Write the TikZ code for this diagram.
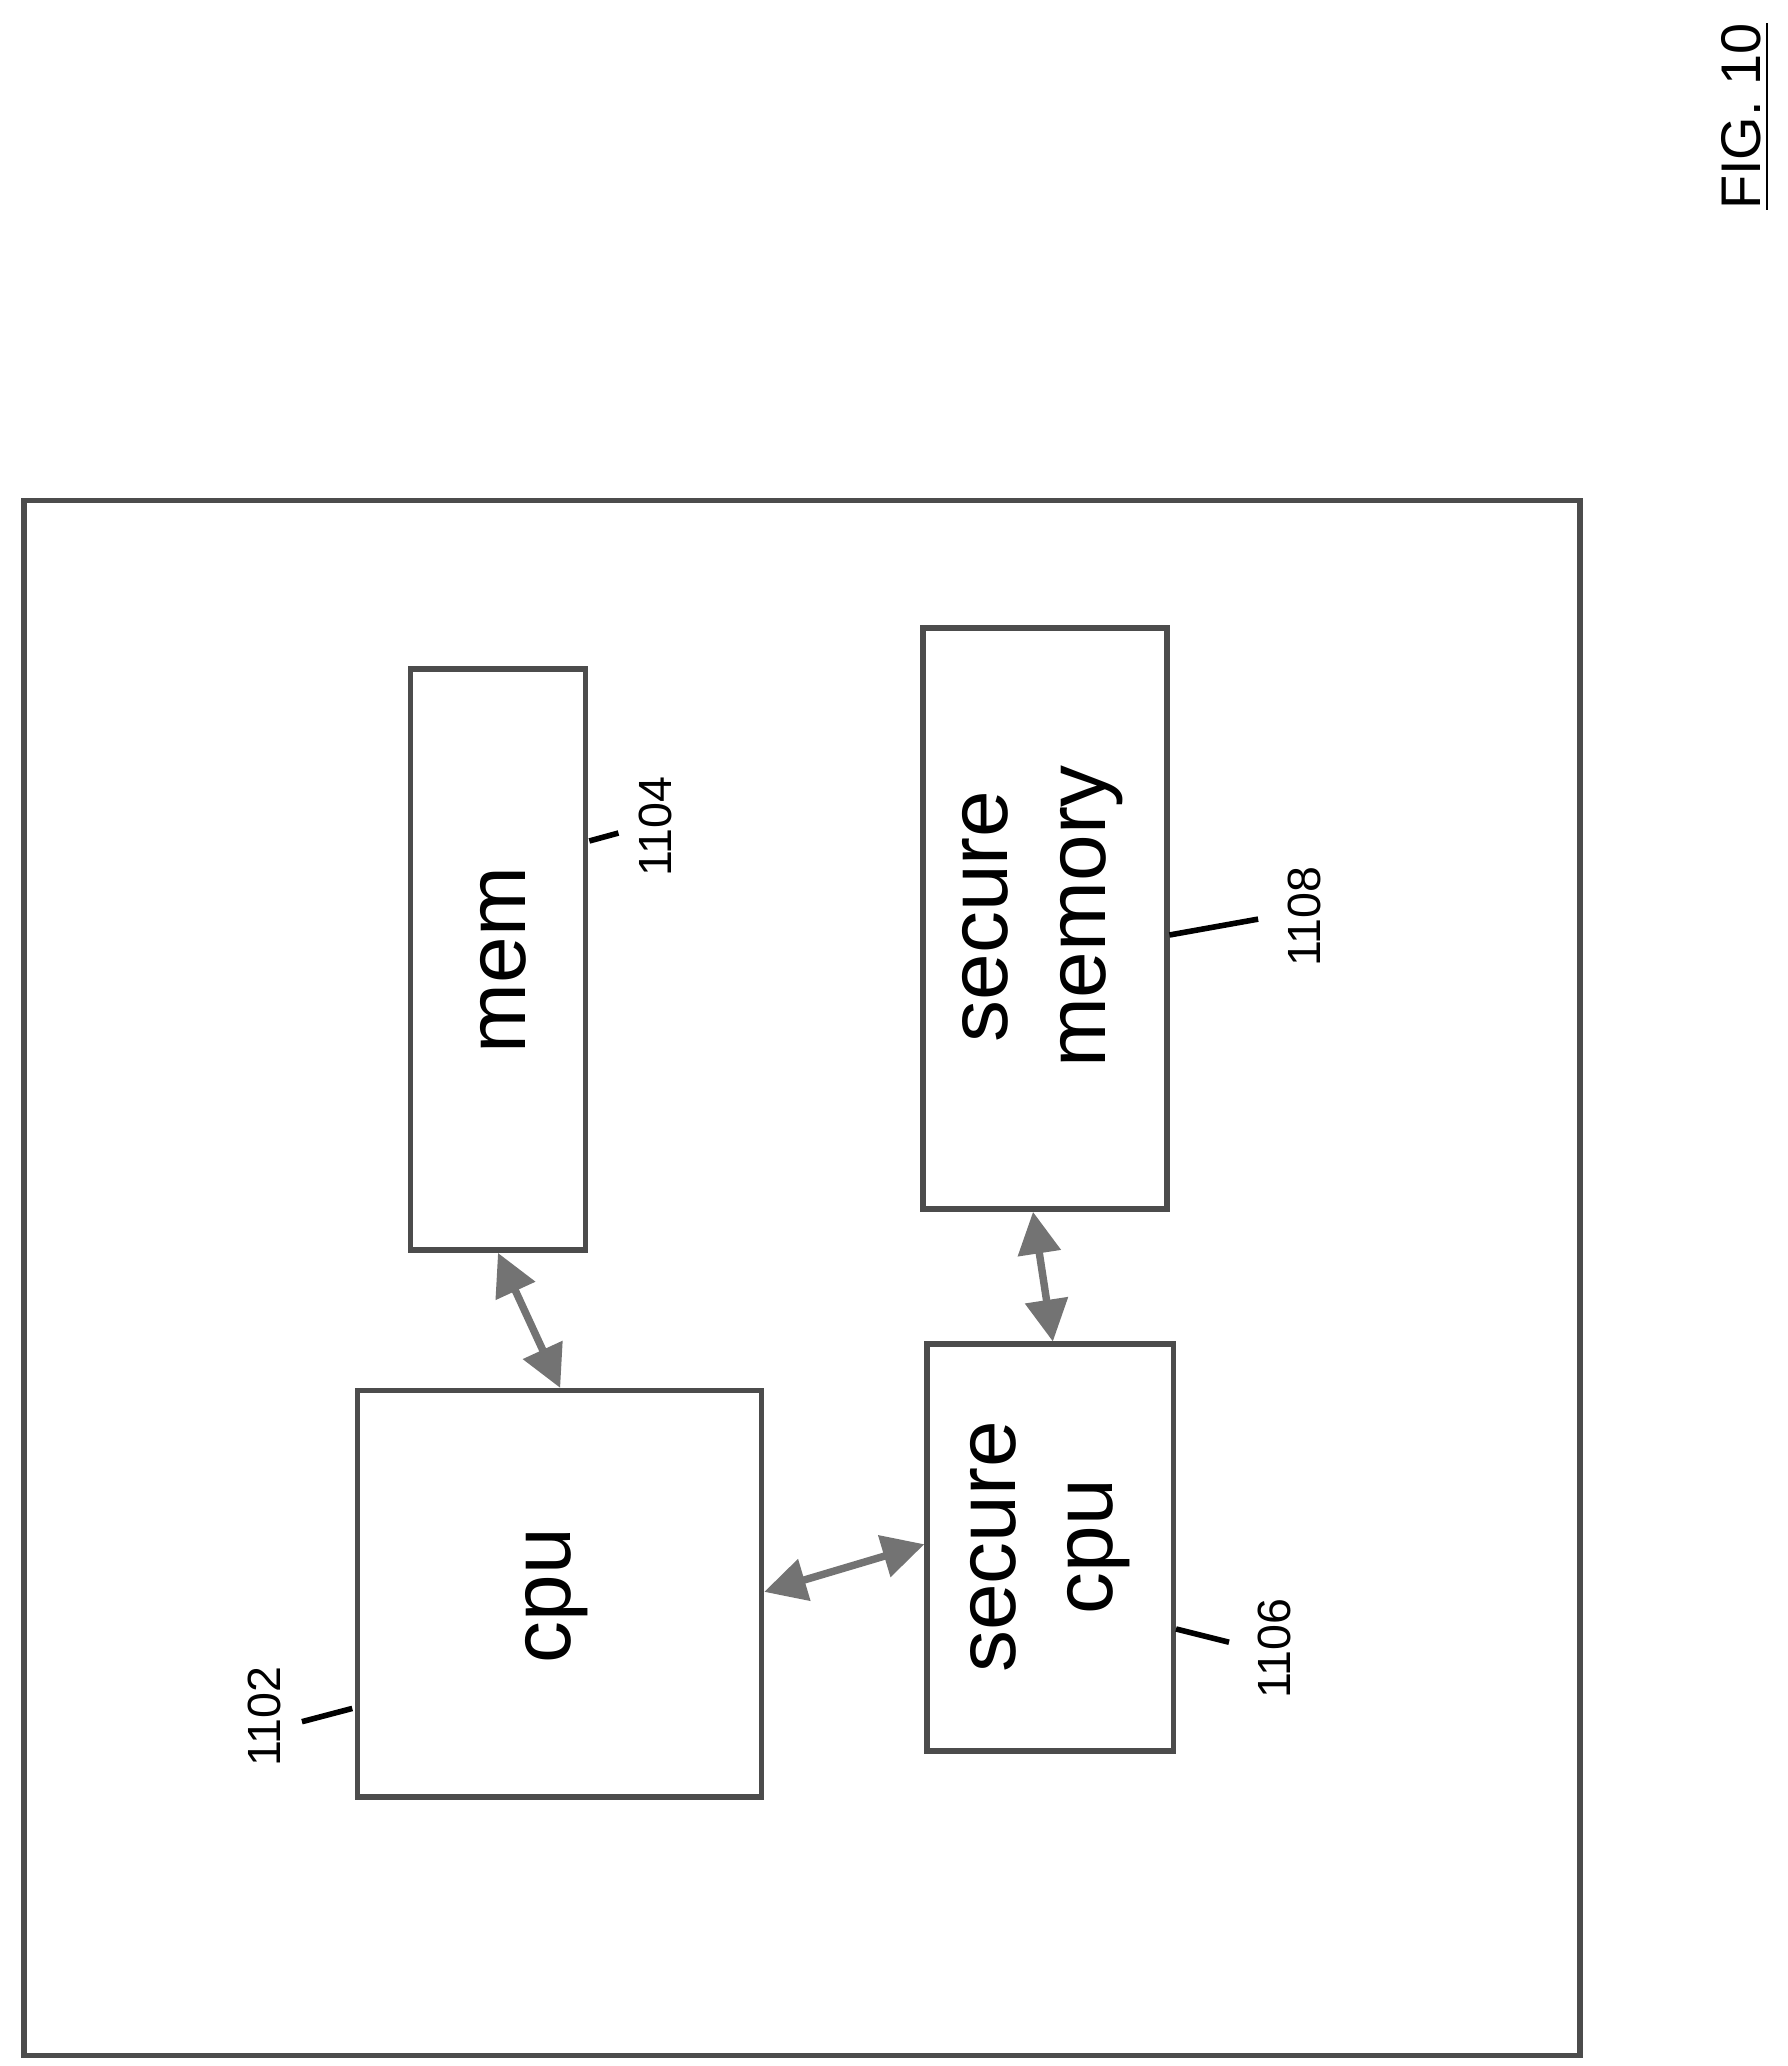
\documentclass[tikz,border=0pt]{standalone}
\usepackage{fontspec}
\setmainfont{Liberation Sans}
\usetikzlibrary{arrows.meta}

\tikzset{
  blk/.style={draw=black!70,line width=1.2pt},
  big/.style={rotate=90,align=center,font=\fontsize{18}{21}\selectfont},
  num/.style={rotate=90,font=\fontsize{10}{12}\selectfont},
  link/.style={draw=black!55,line width=1.6pt,{Triangle[length=9pt,width=9pt]}-{Triangle[length=9pt,width=9pt]}},
  lead/.style={line width=1.2pt}
}

\begin{document}
\begin{tikzpicture}[x=0.01cm,y=-0.01cm]
  \useasboundingbox (0,0) rectangle (1350,1560);
  % outer frame
  \draw[blk] (18,378) rectangle (1193,1552);
  % blocks
  \draw[blk] (310,505) rectangle (442,944);
  \draw[blk] (697,474) rectangle (881,913);
  \draw[blk] (270,1050) rectangle (575,1357);
  \draw[blk] (700,1015) rectangle (886,1322);
  \node[big] (mem) at (380,725) {mem};
  \node[big] (smem) at (787,692) {secure\\memory};
  \node[big] (cpu) at (420,1205) {cpu};
  \node[big] (scpu) at (793,1168) {secure\\cpu};
  % anchors for connectors
  \coordinate (memB) at (376,946);
  \coordinate (cpuT) at (423,1048);
  \coordinate (cpuR) at (577,1202);
  \coordinate (scpuL) at (698,1166);
  \coordinate (smemB) at (780,915);
  \coordinate (scpuT) at (795,1013);
  \draw[link] (memB) -- (cpuT);
  \draw[link] (cpuR) -- (scpuL);
  \draw[link] (smemB) -- (scpuT);
  % reference numerals
  \node[num] (n1104) at (495,624) {1104};
  \draw[lead] (445,635) -- (467,629);
  \node[num] (n1108) at (985,692) {1108};
  \draw[lead] (883,706) -- (950,694);
  \node[num] (n1102) at (200,1296) {1102};
  \draw[lead] (228,1300) -- (266,1290);
  \node[num] (n1106) at (962,1245) {1106};
  \draw[lead] (888,1230) -- (928,1240);
  \node[rotate=90,font=\fontsize{12}{14}\selectfont] (fig) at (1318,88) {\underline{FIG. 10}};
\end{tikzpicture}
\end{document}
